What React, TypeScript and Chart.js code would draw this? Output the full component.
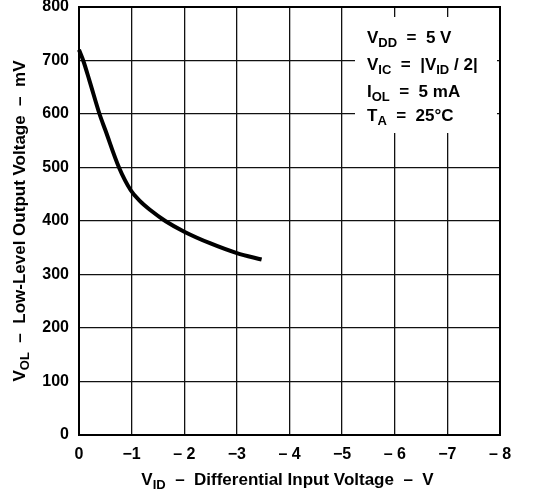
import React, { useEffect, useRef } from "react";
import { Chart, registerables } from "chart.js";

Chart.register(...registerables);

// Differential input voltage (V) and low-level output voltage (mV)
const vid = [0, -0.08, -0.2, -0.39, -0.5, -0.76, -0.98, -1.15, -1.36, -1.64, -2, -2.5, -3, -3.47];
const vol = [720, 700, 662, 600, 570, 500, 458, 438, 420, 400, 380, 358, 340, 328];

const xTickLabels = ["0", "\u22121", "\u2013 2", "\u22123", "\u2013 4", "\u22125", "\u2013 6", "\u22127", "\u2013 8"];

type Seg = { t: string; sub?: boolean };
const xTitle: Seg[] = [{ t: "V" }, { t: "ID", sub: true }, { t: "  \u2013  Differential Input Voltage  \u2013  V" }];
const yTitle: Seg[] = [{ t: "V" }, { t: "OL", sub: true }, { t: "  \u2013  Low-Level Output Voltage  \u2013  mV" }];
const conditions: Seg[][] = [
  [{ t: "V" }, { t: "DD", sub: true }, { t: "  =  5 V" }],
  [{ t: "V" }, { t: "IC", sub: true }, { t: "  =  |V" }, { t: "ID", sub: true }, { t: " / 2|" }],
  [{ t: "I" }, { t: "OL", sub: true }, { t: "  =  5 mA" }],
  [{ t: "T" }, { t: "A", sub: true }, { t: "  =  25\u00B0C" }],
];

const FAMILY = '"Liberation Sans", Arial, sans-serif';
const MAIN_FONT = `bold 17px ${FAMILY}`;
const SUB_FONT = `bold 13px ${FAMILY}`;

function richWidth(ctx: CanvasRenderingContext2D, segs: Seg[]) {
  let w = 0;
  for (const s of segs) {
    ctx.font = s.sub ? SUB_FONT : MAIN_FONT;
    w += ctx.measureText(s.t).width;
  }
  return w;
}

function drawRich(ctx: CanvasRenderingContext2D, segs: Seg[], x: number, y: number, center: boolean) {
  let cx = center ? x - richWidth(ctx, segs) / 2 : x;
  ctx.textAlign = "left";
  ctx.textBaseline = "alphabetic";
  for (const s of segs) {
    ctx.font = s.sub ? SUB_FONT : MAIN_FONT;
    ctx.fillText(s.t, cx, y + (s.sub ? 4 : 0));
    cx += ctx.measureText(s.t).width;
  }
}

const decorPlugin = {
  id: "decor",
  afterDraw(chart: any) {
    const ctx: CanvasRenderingContext2D = chart.ctx;
    const a = chart.chartArea;
    ctx.save();
    // frame
    ctx.strokeStyle = "#000";
    ctx.lineWidth = 2;
    ctx.strokeRect(a.left, a.top, a.right - a.left, a.bottom - a.top);
    // condition box
    const bx = a.right - 145;
    const by = a.top + 10;
    ctx.fillStyle = "#fff";
    ctx.fillRect(bx, by, 142, 116);
    ctx.fillStyle = "#000";
    const baselines = [43, 70, 97, 121];
    conditions.forEach((line, i) => drawRich(ctx, line, bx + 12, baselines[i], false));
    // axis titles
    drawRich(ctx, xTitle, (a.left + a.right) / 2 - 2, 485, true);
    ctx.translate(25, (a.top + a.bottom) / 2);
    ctx.rotate(-Math.PI / 2);
    drawRich(ctx, yTitle, 0, 0, true);
    ctx.restore();
  },
};

export default function App() {
  const ref = useRef<HTMLCanvasElement>(null);
  useEffect(() => {
    if (!ref.current) return;
    const chart = new Chart(ref.current, {
      type: "line",
      data: {
        datasets: [
          {
            data: vid.map((x, i) => ({ x, y: vol[i] })),
            borderColor: "#000",
            borderWidth: 4,
            pointRadius: 0,
            cubicInterpolationMode: "monotone",
            fill: false,
            clip: false as any,
          },
        ],
      },
      options: {
        responsive: false,
        animation: false,
        devicePixelRatio: 1,
        layout: { padding: { top: 7, right: 33, left: 0, bottom: 0 } },
        plugins: { legend: { display: false }, tooltip: { enabled: false } },
        scales: {
          x: {
            type: "linear",
            min: -8,
            max: 0,
            reverse: true,
            afterFit: (s: any) => {
              s.height = 59;
              s.paddingLeft = 0;
              s.paddingRight = 0;
            },
            ticks: {
              stepSize: 1,
              padding: 10,
              color: "#000",
              font: { family: FAMILY, size: 16, weight: "bold" },
              callback: (v: any) => xTickLabels[Math.round(-Number(v))] ?? "",
              maxRotation: 0,
              autoSkip: false,
            },
            grid: { color: "#111", lineWidth: 1.3, drawTicks: false },
            border: { display: true, color: "#000", width: 2 },
          },
          y: {
            min: 0,
            max: 800,
            afterFit: (s: any) => {
              s.width = 79;
              s.paddingTop = 0;
              s.paddingBottom = 0;
            },
            ticks: {
              stepSize: 100,
              padding: 10,
              color: "#000",
              font: { family: FAMILY, size: 16, weight: "bold" },
            },
            grid: { color: "#111", lineWidth: 1.3, drawTicks: false },
            border: { display: true, color: "#000", width: 2 },
          },
        },
      } as any,
      plugins: [decorPlugin],
    });
    return () => chart.destroy();
  }, []);
  return (
    <div style={{ position: "absolute", left: 0, top: 0, width: 533, height: 494, background: "#fff" }}>
      <canvas ref={ref} width={533} height={494} style={{ display: "block" }} />
    </div>
  );
}
